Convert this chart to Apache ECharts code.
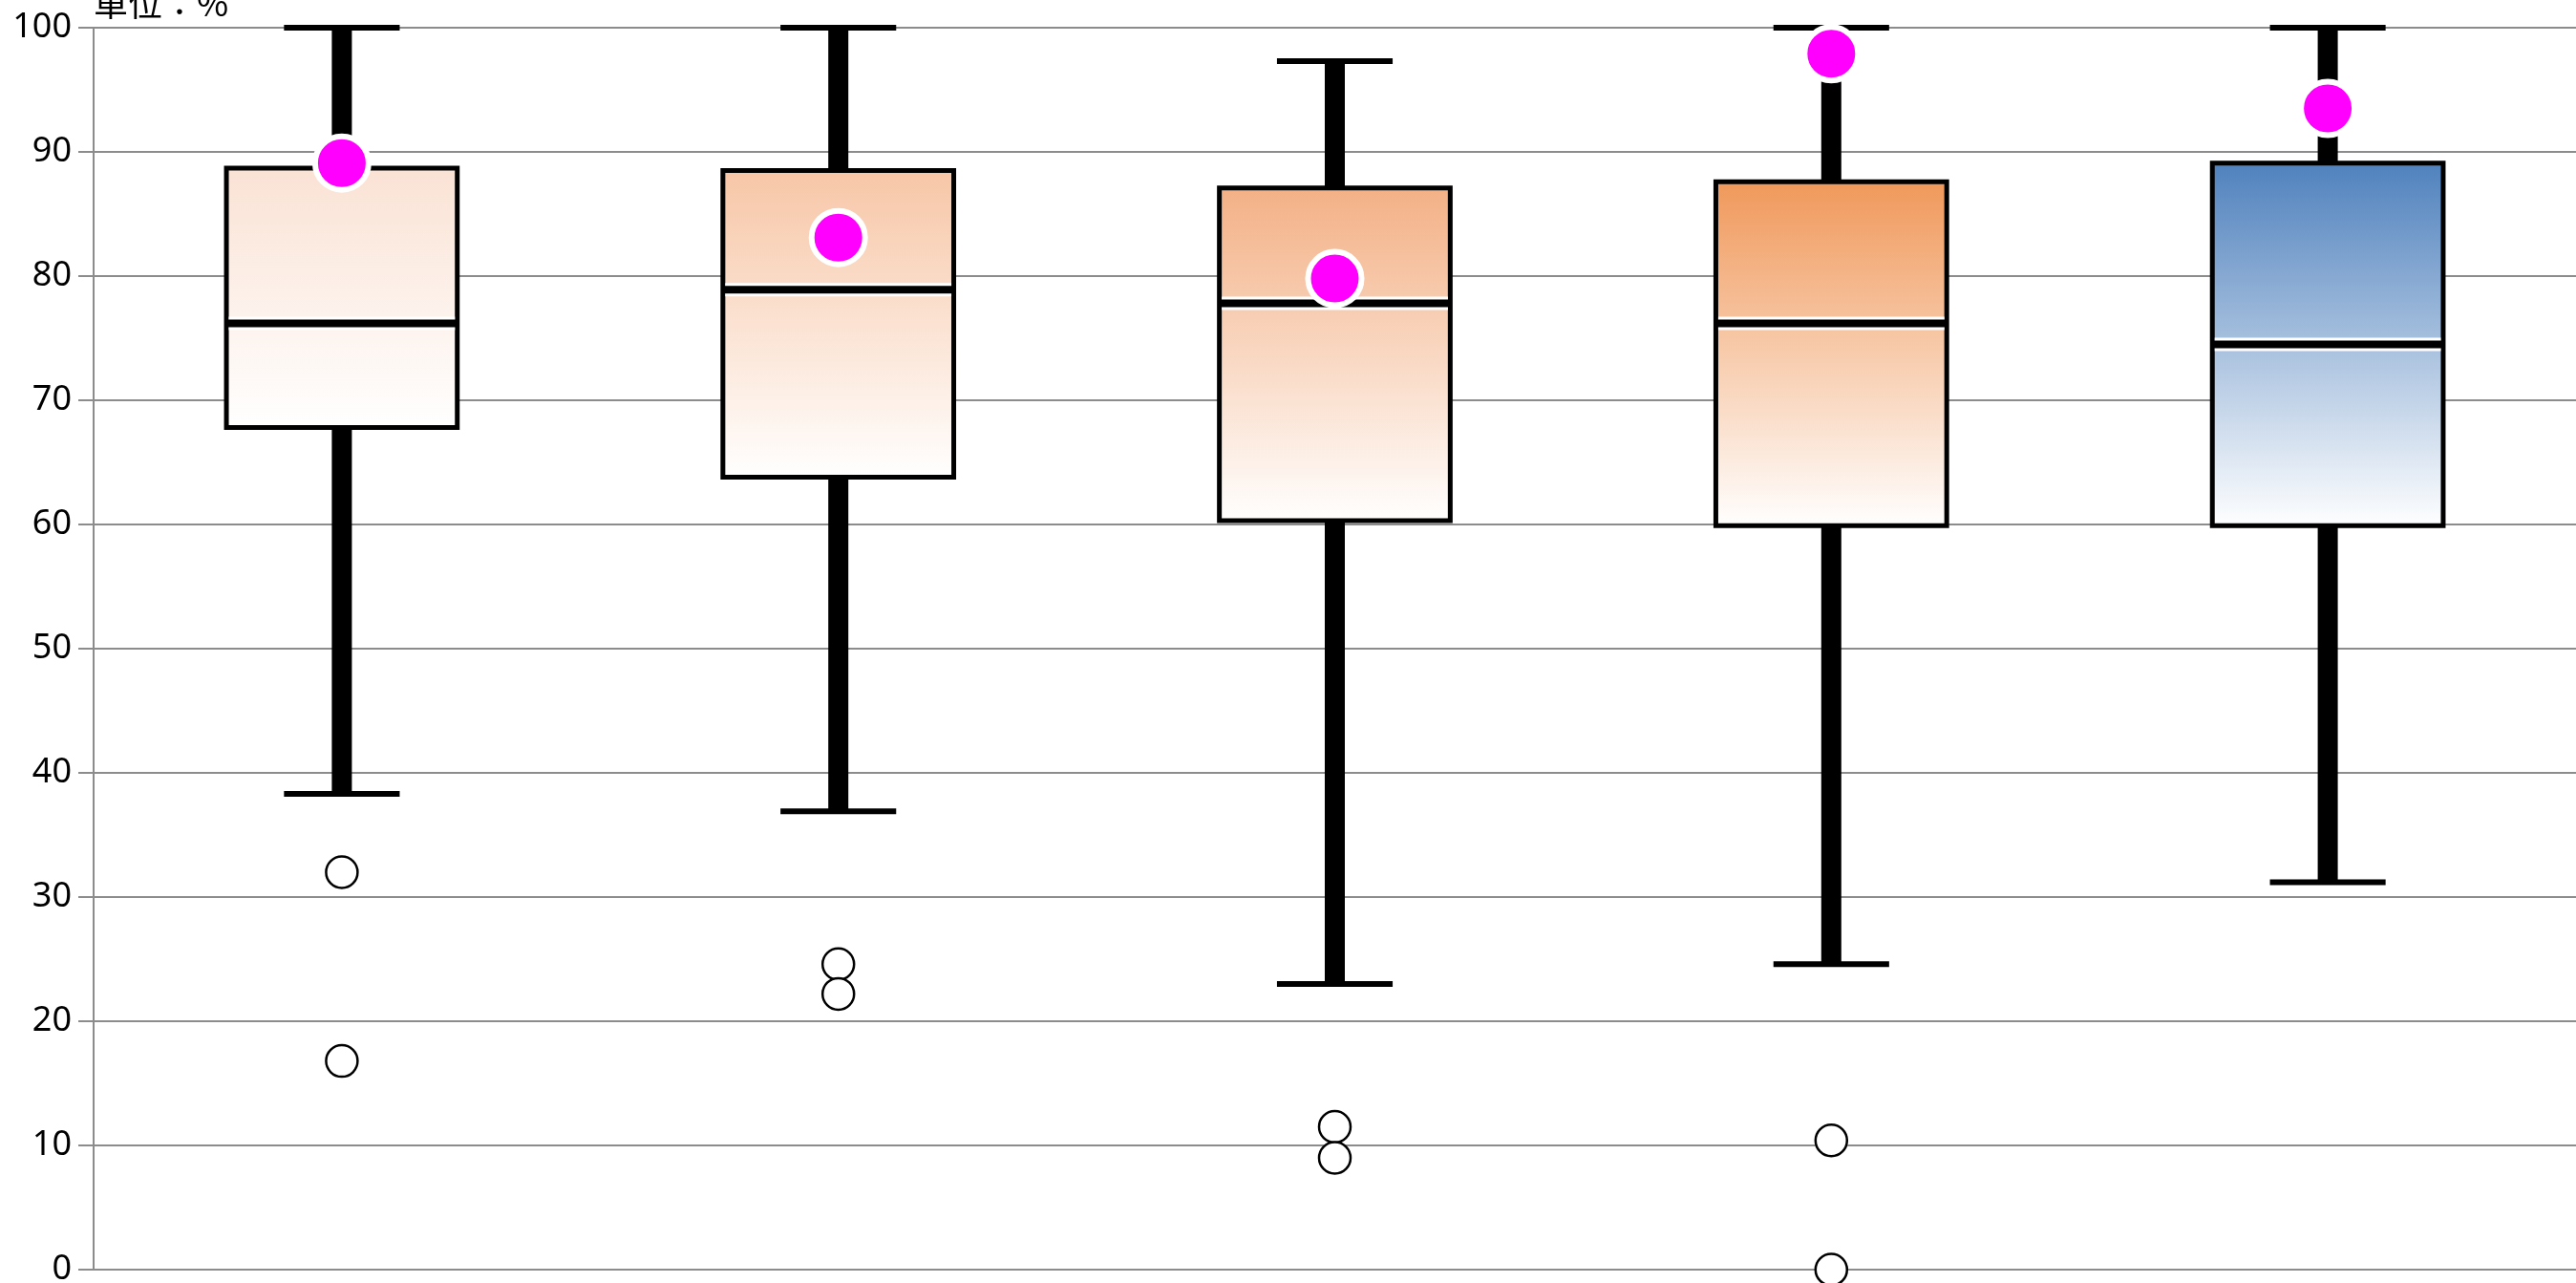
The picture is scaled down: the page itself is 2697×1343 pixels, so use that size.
<!DOCTYPE html>
<html>
<head>
<meta charset="utf-8">
<script src="https://cdn.jsdelivr.net/npm/echarts@6/dist/echarts.min.js"></script>
<style>
	html, body {
	margin: 0;
	padding: 0;
	background: #fff;
	}
	#chartDiv {
	width: 2697px;
	height: 1343px;
	}
</style>
</head>
<body>
<div id="chartDiv"></div>
<script>
// box data, one entry per box
var categories = ['1', '2', '3', '4', '5'];
var mins    = [38.3, 36.9, 23.0, 24.6, 31.2];
var q1s     = [67.8, 63.8, 60.3, 59.9, 59.9];
var medians = [76.2, 78.9, 77.8, 76.2, 74.5];
var q3s     = [88.7, 88.5, 87.1, 87.6, 89.1];
var maxs    = [100, 100, 97.3, 100, 100];
var means   = [89.1, 83.1, 79.8, 97.9, 93.5];
// outliers as [box index, value]
var outliers = [
	[0, 32.0], [0, 16.8],
	[1, 24.6], [1, 22.2],
	[2, 11.5], [2, 9.0],
	[3, 10.4], [3, 0]
];
var boxColors = ['#fae2d4', '#f7c6a6', '#f3b085', '#f0985a', '#4f81bd'];
var yTicks = { min: 0, max: 100, interval: 10 };

var boxData = [];
for (var i = 0; i < categories.length; i++) {
	boxData.push([i, mins[i], q1s[i], medians[i], q3s[i], maxs[i]]);
}
var meanData = [];
for (var i = 0; i < means.length; i++) {
	meanData.push([i, means[i]]);
}

function renderBox(params, api) {
	var idx = api.value(0);
	var lo = api.coord([idx, api.value(1)]);
	var q1 = api.coord([idx, api.value(2)]);
	var med = api.coord([idx, api.value(3)]);
	var q3 = api.coord([idx, api.value(4)]);
	var hi = api.coord([idx, api.value(5)]);
	var band = api.size([1, 0])[0];
	var boxW = band * 0.465;
	var capW = band * 0.233;
	var x = q1[0];
	var left = x - boxW / 2;
	var bw = 5;
	var fill = new echarts.graphic.LinearGradient(0, 0, 0, 1, [
		{ offset: 0, color: boxColors[idx] },
		{ offset: 1, color: '#ffffff' }
	]);
	return {
		type: 'group',
		children: [
			{ type: 'line', shape: { x1: x, y1: q3[1], x2: x, y2: hi[1] }, style: { stroke: '#000', lineWidth: 21 } },
			{ type: 'line', shape: { x1: x, y1: q1[1], x2: x, y2: lo[1] }, style: { stroke: '#000', lineWidth: 21 } },
			{ type: 'line', shape: { x1: x - capW / 2, y1: hi[1], x2: x + capW / 2, y2: hi[1] }, style: { stroke: '#000', lineWidth: 6 } },
			{ type: 'line', shape: { x1: x - capW / 2, y1: lo[1], x2: x + capW / 2, y2: lo[1] }, style: { stroke: '#000', lineWidth: 6 } },
			{ type: 'rect', shape: { x: left, y: q3[1], width: boxW, height: q1[1] - q3[1] }, style: { fill: fill, stroke: '#000', lineWidth: bw } },
			{ type: 'line', shape: { x1: left + bw / 2, y1: med[1], x2: left + boxW - bw / 2, y2: med[1] }, style: { stroke: '#fff', lineWidth: 14 } },
			{ type: 'line', shape: { x1: left, y1: med[1], x2: left + boxW, y2: med[1] }, style: { stroke: '#000', lineWidth: 8 } }
		]
	};
}

var myChart = echarts.init(document.getElementById('chartDiv'));
var option = {
	animation: false,
	backgroundColor: '#fff',
	grid: {
		left: 98,
		right: 0,
		top: 29,
		bottom: 14,
		containLabel: false,
		outerBoundsMode: 'none'
	},
	graphic: [
		{
			type: 'text',
			x: 98,
			y: 21,
			style: {
				text: '單位：%',
				fontSize: 36,
				fontFamily: '"Noto Sans CJK TC", "Noto Sans", sans-serif',
				fill: '#000',
				verticalAlign: 'bottom'
			}
		}
	],
	xAxis: {
		type: 'category',
		data: categories,
		boundaryGap: true,
		axisLine: { show: true, lineStyle: { color: '#8c8c8c', width: 2 } },
		axisTick: { show: false },
		axisLabel: { show: false },
		splitLine: { show: false }
	},
	yAxis: {
		type: 'value',
		min: yTicks.min,
		max: yTicks.max,
		interval: yTicks.interval,
		axisLine: { show: true, lineStyle: { color: '#8c8c8c', width: 2 } },
		axisTick: { show: true, length: 16, lineStyle: { color: '#8c8c8c', width: 2 } },
		axisLabel: {
			color: '#000',
			fontSize: 36,
			margin: 23,
			fontFamily: '"Noto Sans", sans-serif'
		},
		splitLine: { show: true, lineStyle: { color: '#8c8c8c', width: 2 } }
	},
	series: [
		{
			type: 'custom',
			renderItem: renderBox,
			encode: { x: 0, y: [1, 2, 3, 4, 5] },
			data: boxData,
			z: 2
		},
		{
			type: 'scatter',
			data: outliers,
			symbol: 'circle',
			symbolSize: 33,
			itemStyle: { color: '#fff', borderColor: '#000', borderWidth: 2.5, opacity: 1 },
			z: 3
		},
		{
			type: 'scatter',
			data: meanData,
			symbol: 'circle',
			symbolSize: 56,
			itemStyle: { color: '#ff00ff', borderColor: '#fff', borderWidth: 6, opacity: 1 },
			z: 4
		}
	]
};
myChart.setOption(option);
window.addEventListener('resize', function () {
	myChart.resize();
});
</script>
</body>
</html>
